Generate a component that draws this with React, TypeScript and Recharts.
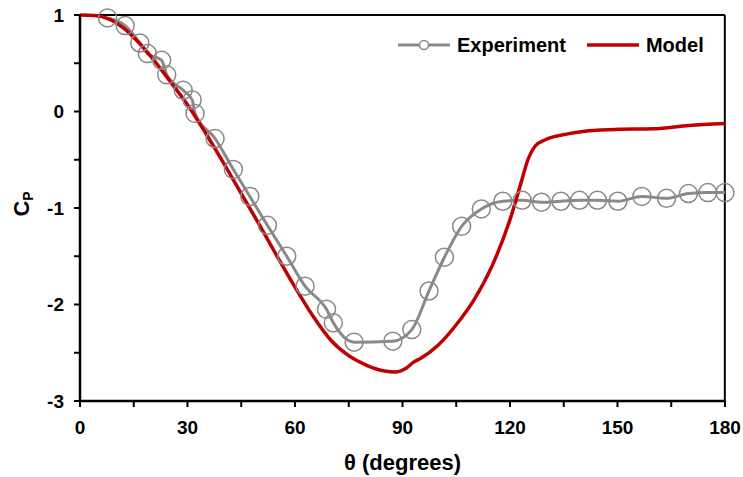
import { LineChart, Line, XAxis, YAxis, Label, ReferenceLine } from 'recharts';

const expTheta = [7.7, 12.6, 16.7, 18.8, 22.8, 24.2, 28.8, 31.3, 32.1, 37.7, 42.8, 47.4, 52.3, 57.7, 62.8, 68.8, 70.7, 76.5, 87.3, 92.6, 97.4, 101.7, 106.5, 112.0, 118.0, 123.4, 128.8, 134.2, 139.4, 144.4, 150.1, 156.8, 163.7, 169.8, 175.2, 180];
const expCp = [0.97, 0.89, 0.71, 0.6, 0.53, 0.38, 0.22, 0.12, -0.02, -0.28, -0.6, -0.88, -1.18, -1.5, -1.81, -2.05, -2.19, -2.39, -2.38, -2.26, -1.86, -1.51, -1.19, -1.01, -0.93, -0.92, -0.94, -0.93, -0.92, -0.92, -0.93, -0.88, -0.9, -0.85, -0.84, -0.84];

const modelTheta = [0, 4, 8, 12, 16, 20, 25, 30, 35, 40, 45, 50, 55, 60, 65, 70, 75, 80, 85, 88, 91, 93, 95, 100, 105, 110, 115, 120, 123, 125, 127, 130, 135, 142, 150, 160, 170, 180];
const modelCp = [1.0, 0.995, 0.96, 0.87, 0.73, 0.56, 0.32, 0.07, -0.22, -0.53, -0.85, -1.17, -1.5, -1.82, -2.12, -2.37, -2.53, -2.63, -2.69, -2.7, -2.66, -2.6, -2.56, -2.42, -2.21, -1.95, -1.6, -1.12, -0.75, -0.5, -0.36, -0.29, -0.24, -0.2, -0.185, -0.18, -0.145, -0.125];

const xTicks = [0, 15, 30, 45, 60, 75, 90, 105, 120, 135, 150, 165, 180];
const yTicks = [-3, -2.5, -2, -1.5, -1, -0.5, 0, 0.5, 1];

const experiment = expTheta.map((t, i) => ({ theta: t, cp: expCp[i] }));
const model = modelTheta.map((t, i) => ({ theta: t, cp: modelCp[i] }));

const FONT = '"Liberation Sans", Arial, sans-serif';
const GREY = '#898989';
const RED = '#c00000';
const tickStyle = { fill: '#000', fontSize: 19, fontWeight: 'bold', fontFamily: FONT };

export default function App() {
    return (
        <div style={{ position: 'absolute', left: 0, top: 0, width: 743, height: 477, fontFamily: FONT }}>
            <LineChart width={743} height={477} margin={{ top: 15, right: 18, bottom: 0, left: 0 }}>
                <XAxis
                    type="number"
                    dataKey="theta"
                    domain={[0, 180]}
                    ticks={xTicks}
                    interval={0}
                    height={76}
                    tickFormatter={(v) => (v % 30 === 0 ? String(v) : '')}
                    tick={tickStyle}
                    axisLine={{ stroke: '#000', strokeWidth: 2.5 }}
                    tickLine={{ stroke: '#000', strokeWidth: 2 }}
                    tickSize={6}
                    tickMargin={14}
                >
                    <Label
                        value="θ (degrees)"
                        position="insideBottom"
                        offset={7}
                        style={{ fill: '#000', fontSize: 22, fontWeight: 'bold', fontFamily: FONT }}
                    />
                </XAxis>
                <YAxis
                    type="number"
                    domain={[-3, 1]}
                    ticks={yTicks}
                    interval={0}
                    width={80}
                    tickFormatter={(v) => (Number.isInteger(v) ? String(v) : '')}
                    tick={tickStyle}
                    axisLine={{ stroke: '#000', strokeWidth: 2.5 }}
                    tickLine={{ stroke: '#000', strokeWidth: 2 }}
                    tickSize={6}
                    tickMargin={10}
                    label={({ viewBox }: any) => (
                        <text
                            x={0}
                            y={0}
                            transform={`translate(${viewBox.x + 29}, ${viewBox.y + viewBox.height / 2 - 4}) rotate(-90)`}
                            textAnchor="middle"
                            fontSize={22}
                            fontWeight="bold"
                            fontFamily={FONT}
                            fill="#000"
                        >
                            C<tspan fontSize={14} dy={4}>P</tspan>
                        </text>
                    )}
                />
                {/* box: top and right edges */}
                <ReferenceLine y={0.999} stroke="#000" strokeWidth={2} ifOverflow="visible" />
                <ReferenceLine x={179.95} stroke="#000" strokeWidth={2} ifOverflow="visible" />
                <Line
                    data={experiment}
                    dataKey="cp"
                    name="Experiment"
                    type="monotone"
                    stroke={GREY}
                    strokeWidth={3}
                    dot={{ r: 9, stroke: GREY, strokeWidth: 1.5, fill: 'none' }}
                    activeDot={false}
                    isAnimationActive={false}
                />
                <Line
                    data={model}
                    dataKey="cp"
                    name="Model"
                    type="monotone"
                    stroke={RED}
                    strokeWidth={3.5}
                    dot={false}
                    activeDot={false}
                    isAnimationActive={false}
                />
            </LineChart>
            {/* legend sits inside the plot, top right */}
            <div
                style={{
                    position: 'absolute',
                    left: 395,
                    top: 33,
                    display: 'flex',
                    alignItems: 'center',
                    fontWeight: 'bold',
                    fontSize: 20,
                    color: '#000',
                }}
            >
                <svg width={56} height={24}>
                    <line x1={3} y1={12} x2={55} y2={12} stroke={GREY} strokeWidth={3} />
                    <circle cx={29} cy={12} r={4.5} fill="#fff" stroke={GREY} strokeWidth={1.5} />
                </svg>
                <span style={{ marginLeft: 6 }}>Experiment</span>
                <svg width={54} height={24} style={{ marginLeft: 20 }}>
                    <line x1={1} y1={12} x2={53} y2={12} stroke={RED} strokeWidth={3.5} />
                </svg>
                <span style={{ marginLeft: 6 }}>Model</span>
            </div>
        </div>
    );
}
